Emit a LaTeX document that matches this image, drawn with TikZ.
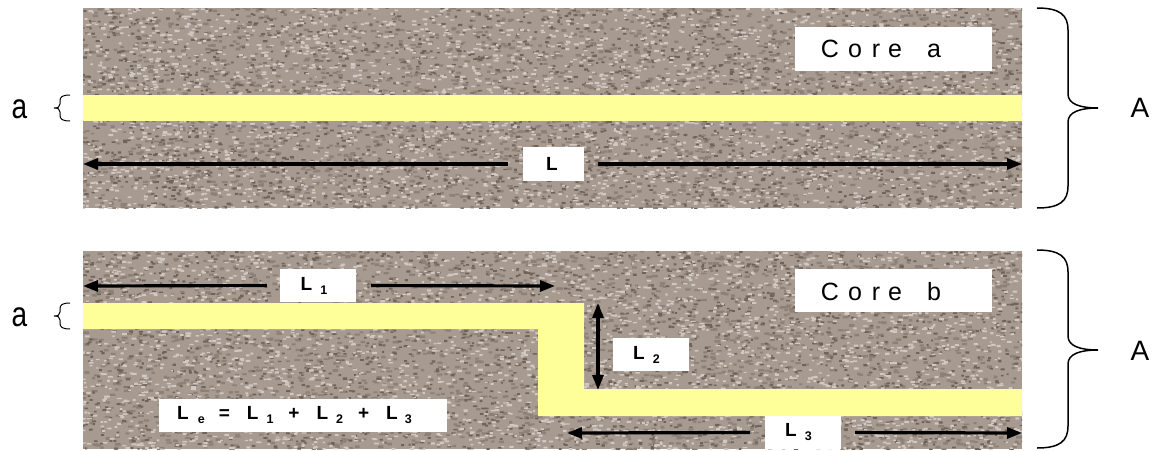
\documentclass[tikz,border=0pt]{standalone}
\usepackage{fontspec}
\setmainfont{Liberation Sans}
\usetikzlibrary{arrows.meta}
\definecolor{rock}{RGB}{166,154,145}
\definecolor{rockdark}{RGB}{112,99,90}
\definecolor{rockmid}{RGB}{140,128,119}
\definecolor{rocklight}{RGB}{208,200,193}
\definecolor{vein}{RGB}{255,255,153}
\newcommand{\speck}[7]{% color, count chunks, x1 y1 x2 y2, size
  \foreach \k in {1,...,#2}{%
    \fill[#1] \foreach \i in {1,...,150}{ ({#3-3+(#5-#3+3)*rnd},{#4-2+(#6-#4+2)*rnd}) rectangle ++(#7) };
  }}
\newcommand{\rockfill}[4]{%
  \begin{scope}
    \clip (#1,#2) rectangle (#3,#4);
    \fill[rock] (#1,#2) rectangle (#3,#4);
    \speck{rockmid}{18}{#1}{#2}{#3}{#4}{{3+3*rnd},{1.6+1.2*rnd}}
    \speck{rockdark}{15}{#1}{#2}{#3}{#4}{{2+2.5*rnd},{1.3+1*rnd}}
    \speck{rocklight}{20}{#1}{#2}{#3}{#4}{{2.2+2.8*rnd},{1.2+1.1*rnd}}
  \end{scope}}
\newcommand{\sbx}[1]{\raisebox{-4pt}{\fontsize{12.5}{12.5}\selectfont\bfseries #1}}
\newcommand{\bigbrace}[3]{%
  \draw[bracel] (1037,#1) .. controls (1060,#1) and (1068,#1+7) .. (1068,#1+22)
    -- (1068,#3-14) .. controls (1068,#3-4) and (1080,#3) .. (1098,#3)
    .. controls (1080,#3) and (1068,#3+4) .. (1068,#3+14)
    -- (1068,#2-22) .. controls (1068,#2-7) and (1060,#2) .. (1037,#2);}
\newcommand{\smallbrace}[2]{%
  \draw[line width=1pt] (70,#1) .. controls (62,#1) and (60,#1+2) .. (60,#1+6)
    -- (60,#1+9) .. controls (60,#1+12) and (58,#1+13) .. (54,#1+13)
    .. controls (58,#1+13) and (60,#1+14) .. (60,#1+17)
    -- (60,#2-6) .. controls (60,#2-2) and (62,#2) .. (70,#2);}
\tikzset{
  dim/.style={line width=3.2pt, -{Triangle[length=15pt,width=11pt]}},
  dimboth/.style={line width=3.2pt, {Triangle[length=15pt,width=11pt]}-{Triangle[length=15pt,width=11pt]}},
  labbox/.style={fill=white, inner sep=0pt, minimum width=76pt, minimum height=33pt, font=\fontsize{19}{19}\selectfont\bfseries},
  corebox/.style={fill=white, inner sep=0pt, minimum width=197pt, minimum height=44pt},
  coretext/.style={font=\fontsize{25}{25}\selectfont, inner sep=0pt},
  sidetext/.style={font=\fontsize{28}{28}\selectfont, inner sep=0pt},
  bracel/.style={line width=1.5pt}
}
\pgfmathsetseed{4242}
\begin{document}
\begin{tikzpicture}[x=1pt,y=-1pt]
\useasboundingbox[fill=white] (0,0) rectangle (1156,450);
% rocks
\rockfill{83}{8}{1022}{208}
\rockfill{83}{251}{1022}{449}
% veins
\fill[vein] (83,95) rectangle (1022,121);
\fill[vein] (83,303) -- (584,303) -- (584,389) -- (1022,389) -- (1022,416)
  -- (538,416) -- (538,329) -- (83,329) -- cycle;
% top core
\node[corebox] (corea) at (893.5,48.5) {};
\node[coretext] (coreatxt) at (881,49) {C\hspace{9pt}o\hspace{10pt}r\hspace{8pt}e\hspace{25pt}a};
\node[labbox, minimum width=61pt, minimum height=34pt] (Lbox) at (553.5,164) {L\hspace*{3pt}};
\coordinate (Ltl) at (83,164);
\coordinate (Ltr) at (1022,164);
\draw[dim, shorten <=15pt] (Lbox.west) -- (Ltl);
\draw[dim, shorten <=14pt] (Lbox.east) -- (Ltr);
% bottom core
\node[corebox, minimum height=43pt] (coreb) at (893.5,290.5) {};
\node[coretext] (corebtxt) at (881,292) {C\hspace{9pt}o\hspace{10pt}r\hspace{8pt}e\hspace{25pt}b};
\node[labbox] (L1box) at (318,285.5) {L\hspace{8pt}\sbx{1}\hspace*{8pt}};
\coordinate (L1l) at (83,286);
\coordinate (L1r) at (555,286);
\draw[dim, shorten <=13pt] (L1box.west) -- (L1l);
\draw[dim, shorten <=15pt] (L1box.east) -- (L1r);
\coordinate (L2t) at (598,303);
\coordinate (L2b) at (598,390);
\draw[dimboth] (L2t) -- (L2b);
\node[labbox] (L2box) at (651,354.5) {L\hspace{8pt}\sbx{2}\hspace*{9pt}};
\node[labbox] (L3box) at (803,432.5) {L\hspace{8pt}\sbx{3}\hspace*{9pt}};
\coordinate (L3l) at (567,433);
\coordinate (L3r) at (1022,433);
\draw[dim, shorten <=15pt] (L3box.west) -- (L3l);
\draw[dim, shorten <=14pt] (L3box.east) -- (L3r);
\node[labbox, minimum width=288pt] (Lebox) at (303,415.5)
  {L\hspace{9pt}\sbx{e}\hspace{14pt}=\hspace{17pt}L\hspace{8pt}\sbx{1}\hspace{15pt}+\hspace{17pt}L\hspace{8pt}\sbx{2}\hspace{15pt}+\hspace{17pt}L\hspace{7pt}\sbx{3}\hspace*{17pt}};
% side labels
\smallbrace{95}{121}
\smallbrace{303}{329}
\node[sidetext] (atop) at (19.5,109) {\scalebox{1}[1.25]{a}};
\node[sidetext] (abot) at (19.5,317) {\scalebox{1}[1.25]{a}};
\bigbrace{8}{208}{108}
\bigbrace{250}{448}{350}
\node[sidetext] (Atop) at (1140,108) {A};
\node[sidetext] (Abot) at (1140,351) {A};
\end{tikzpicture}
\end{document}
